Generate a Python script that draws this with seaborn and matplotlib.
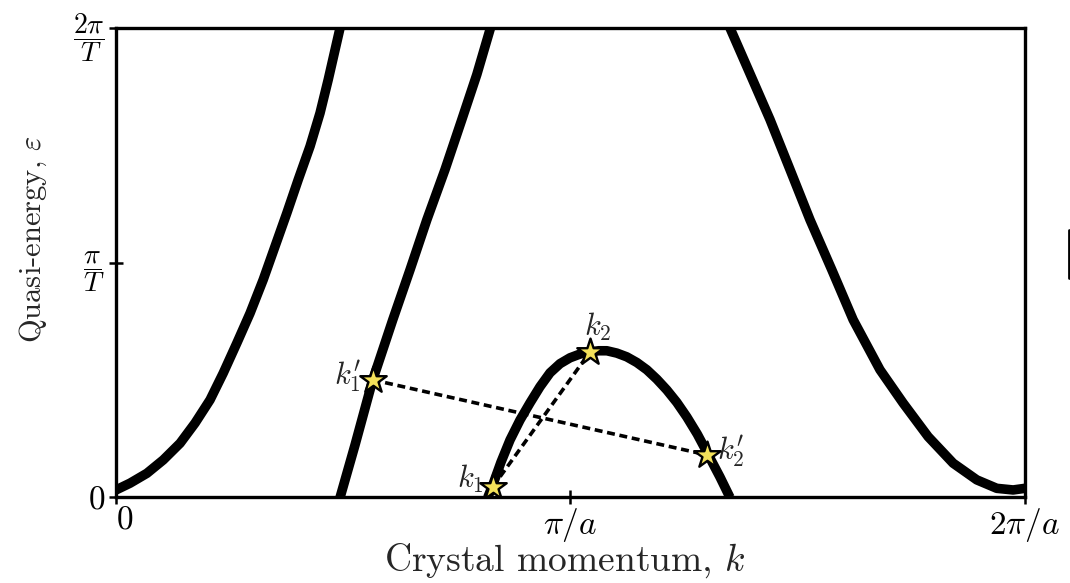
import numpy as np
import pandas as pd
import matplotlib
matplotlib.use("Agg")
import matplotlib.pyplot as plt
from matplotlib.lines import Line2D
import seaborn as sns

# Folded quasi-energy band, k in units of pi/a, epsilon in units of pi/T
band1_k = [0.0, 0.031, 0.068, 0.104, 0.141, 0.174, 0.207, 0.236, 0.266, 0.295,
           0.324, 0.350, 0.376, 0.401, 0.427, 0.449, 0.467, 0.493]
band1_e = [0.032, 0.061, 0.103, 0.160, 0.231, 0.317, 0.416, 0.530, 0.658, 0.785,
           0.928, 1.070, 1.212, 1.354, 1.496, 1.638, 1.780, 2.0]

band2_k = [0.493, 0.526, 0.565, 0.609, 0.647, 0.684, 0.724, 0.761, 0.794, 0.824]
band2_e = [0.0, 0.224, 0.501, 0.757, 0.970, 1.183, 1.397, 1.610, 1.802, 2.0]

band3_k = [0.818, 0.829, 0.847, 0.867, 0.889, 0.911, 0.933, 0.955, 0.977, 0.999,
           1.021, 1.043, 1.062, 1.080, 1.102, 1.124, 1.146, 1.168, 1.190, 1.212,
           1.234, 1.256, 1.279, 1.301, 1.329, 1.351]
band3_e = [0.0, 0.053, 0.150, 0.245, 0.330, 0.403, 0.472, 0.531, 0.570, 0.595,
           0.611, 0.620, 0.625, 0.625, 0.615, 0.599, 0.575, 0.544, 0.504, 0.458,
           0.405, 0.343, 0.270, 0.190, 0.087, 0.0]

band4_k = [1.351, 1.391, 1.439, 1.483, 1.527, 1.575, 1.622, 1.681, 1.732, 1.787,
           1.842, 1.894, 1.938, 1.974, 2.0]
band4_e = [2.0, 1.823, 1.610, 1.397, 1.183, 0.970, 0.757, 0.544, 0.402, 0.259,
           0.146, 0.075, 0.039, 0.032, 0.039]

# Scattering states
state_names = ["k1", "k2", "k1p", "k2p"]
state_k = [0.829, 1.043, 0.565, 1.301]
state_e = [0.045, 0.620, 0.501, 0.181]
state_labels = [r"$k_1$", r"$k_2$", r"$k_1'$", r"$k_2'$"]
transitions = [("k1", "k2"), ("k1p", "k2p")]

x_ticks = [0, 1, 2]
x_ticklabels = [r"$0$", r"$\pi/a$", r"$2\pi/a$"]
y_ticks = [0, 1, 2]
y_ticklabels = [r"$0$", r"$\dfrac{\pi}{T}$", r"$\dfrac{2\pi}{T}$"]

sns.set_theme(style="white")
plt.rcParams["font.family"] = ["cmr10"]
plt.rcParams["mathtext.fontset"] = "cm"
plt.rcParams["axes.formatter.use_mathtext"] = True

bands = pd.concat([
    pd.DataFrame({"k": k, "eps": e, "branch": i})
    for i, (k, e) in enumerate([(band1_k, band1_e), (band2_k, band2_e),
                                (band3_k, band3_e), (band4_k, band4_e)])
])
states = pd.DataFrame({"name": state_names, "k": state_k, "eps": state_e})

fig = plt.figure(figsize=(10.7, 5.83), dpi=100)
ax = fig.add_axes([0.1084, 0.1467, 0.8495, 0.8053])

sns.lineplot(data=bands, x="k", y="eps", units="branch", estimator=None,
             sort=False, color="black", lw=6.9, ax=ax, legend=False,
             solid_capstyle="butt", solid_joinstyle="round")

pos = states.set_index("name")
for a, b in transitions:
    ax.plot([pos.loc[a, "k"], pos.loc[b, "k"]], [pos.loc[a, "eps"], pos.loc[b, "eps"]],
            color="black", lw=2.6, ls=(0, (2.2, 1.3)), zorder=3)

sns.scatterplot(data=states, x="k", y="eps", marker="*", s=400,
                color="#f3e15a", edgecolor="black", linewidth=1.7,
                ax=ax, zorder=5, legend=False)

label_offsets = {"k1": (-0.02, 0.035, "right"), "k2": (0.018, 0.105, "center"),
                 "k1p": (-0.024, 0.015, "right"), "k2p": (0.022, 0.015, "left")}
for name, lab in zip(state_names, state_labels):
    dx, dy, ha = label_offsets[name]
    ax.text(pos.loc[name, "k"] + dx, pos.loc[name, "eps"] + dy, lab,
            ha=ha, va="center", fontsize=22)

ax.set_xlim(0, 2)
ax.set_ylim(0, 2)
ax.set_xticks(x_ticks)
ax.set_xticklabels(x_ticklabels, fontsize=24)
ax.set_yticks(y_ticks)
ax.set_yticklabels(y_ticklabels, fontsize=20)
xl = ax.get_xticklabels()
xl[0].set_horizontalalignment("left")
yl = ax.get_yticklabels()
yl[0].set_fontsize(24)
ax.tick_params(axis="x", pad=1)
ax.tick_params(axis="y", pad=3)
ax.tick_params(axis="both", direction="inout", length=10, width=1.8,
               colors="black", bottom=True, left=True)
for sp in ax.spines.values():
    sp.set_visible(True)
    sp.set_color("black")
    sp.set_linewidth(2.4)

ax.set_xlabel(r"Crystal momentum, $k$", fontsize=27)
ax.xaxis.set_label_coords(0.494, -0.094)
ax.set_ylabel(r"Quasi-energy, $\varepsilon$", fontsize=22)
ax.yaxis.set_label_coords(-0.074, 0.55)

# edge of the neighbouring panel
fig.add_artist(Line2D([1069 / 1070, 1069 / 1070], [1 - 230 / 583, 1 - 278 / 583],
                      transform=fig.transFigure, color="black", lw=2))

fig.savefig("out.png", dpi=100, facecolor="white")
